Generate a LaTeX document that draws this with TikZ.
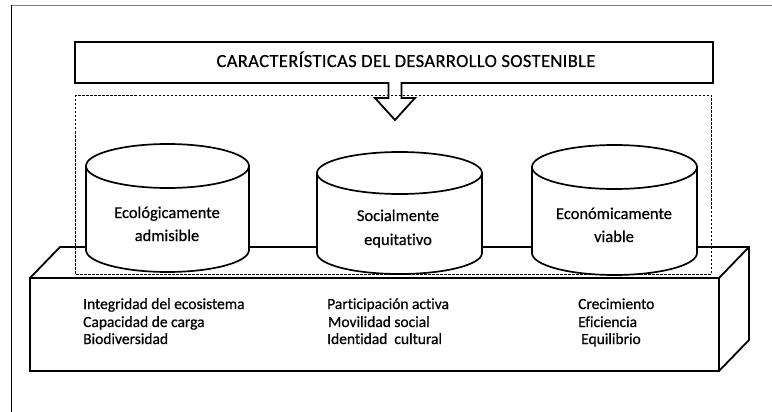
\documentclass[tikz,border=0pt]{standalone}
\usepackage{fontspec}
\setmainfont{Carlito}[Ligatures=NoCommon, FakeBold=0.6]
\begin{document}
\begin{tikzpicture}[x=1pt,y=-1pt,
  heavy/.style={line width=1.8pt, line join=miter},
  cylline/.style={line width=1.7pt},
  lbl/.style={font=\fontsize{16.5}{20}\selectfont, inner sep=0pt, anchor=base},
  item/.style={font=\fontsize{15.5}{18}\selectfont, inner sep=0pt, anchor=base west},
  frameline/.style={line width=0.9pt}]
\useasboundingbox (0,0) rectangle (772,412);
% page frame
\draw[gray, frameline] (11,5) -- (772,5);
\draw[frameline] (11,5) -- (11,412);
% platform
\filldraw[fill=white, heavy] (30,278) -- (60,247) -- (749,247) -- (749,340) -- (719,371) -- (30,371) -- cycle;
\draw[heavy] (30,278) -- (719,278) -- (749,247) (719,278) -- (719,371);
% cylinder 1
\fill[white] (86,166) -- (86,250) arc[start angle=180, end angle=360, x radius=81.5pt, y radius=22pt] -- (249,166) -- cycle;
\draw[cylline] (86,166) -- (86,250) arc[start angle=180, end angle=360, x radius=81.5pt, y radius=22pt] -- (249,166);
\draw[cylline, fill=white] (167.5,166) ellipse [x radius=81.5pt, y radius=22pt];
% cylinder 2
\fill[white] (317,173) -- (317,253) arc[start angle=180, end angle=360, x radius=82.5pt, y radius=21pt] -- (482,173) -- cycle;
\draw[cylline] (317,173) -- (317,253) arc[start angle=180, end angle=360, x radius=82.5pt, y radius=21pt] -- (482,173);
\draw[cylline, fill=white] (399.5,173) ellipse [x radius=82.5pt, y radius=21pt];
% cylinder 3
\fill[white] (532,167) -- (532,253) arc[start angle=180, end angle=360, x radius=82.5pt, y radius=22pt] -- (697,167) -- cycle;
\draw[cylline] (532,167) -- (532,253) arc[start angle=180, end angle=360, x radius=82.5pt, y radius=22pt] -- (697,167);
\draw[cylline, fill=white] (614.5,167) ellipse [x radius=82.5pt, y radius=22pt];
% title callout
\filldraw[fill=white, heavy] (75,42) -- (713,42) -- (713,83) -- (401.5,83) -- (401.5,98) -- (415,98) -- (395,120) -- (375,98) -- (388.5,98) -- (388.5,83) -- (75,83) -- cycle;
% dashed frame
\draw[line width=0.8pt, dash pattern=on 2.5pt off 1.5pt] (75,95) rectangle (711,274);
% texts
\node[font=\fontsize{18.5}{22}\selectfont\addfontfeature{LetterSpace=2}, inner sep=0pt, anchor=base] (title) at (406,67) {CARACTERÍSTICAS DEL DESARROLLO SOSTENIBLE};
\node[lbl] (c1a) at (167,218) {Ecológicamente};
\node[lbl] (c1b) at (167,241) {admisible};
\node[lbl] (c2a) at (398,221) {Socialmente};
\node[lbl] (c2b) at (398,245) {equitativo};
\node[lbl] (c3a) at (614,219) {Económicamente};
\node[lbl] (c3b) at (614,242) {viable};
\node[item] (e1) at (83,309) {Integridad del ecosistema};
\node[item] (e2) at (83,327) {Capacidad de carga};
\node[item] (e3) at (83,344) {Biodiversidad};
\node[item] (s1) at (327,309) {Participación activa};
\node[item] (s2) at (328,327) {Movilidad social};
\node[item] (s3) at (327,344) {Identidad~ cultural};
\node[item] (k1) at (578,309) {Crecimiento};
\node[item] (k2) at (578,327) {Eficiencia};
\node[item] (k3) at (581,344) {Equilibrio};
\end{tikzpicture}
\end{document}
